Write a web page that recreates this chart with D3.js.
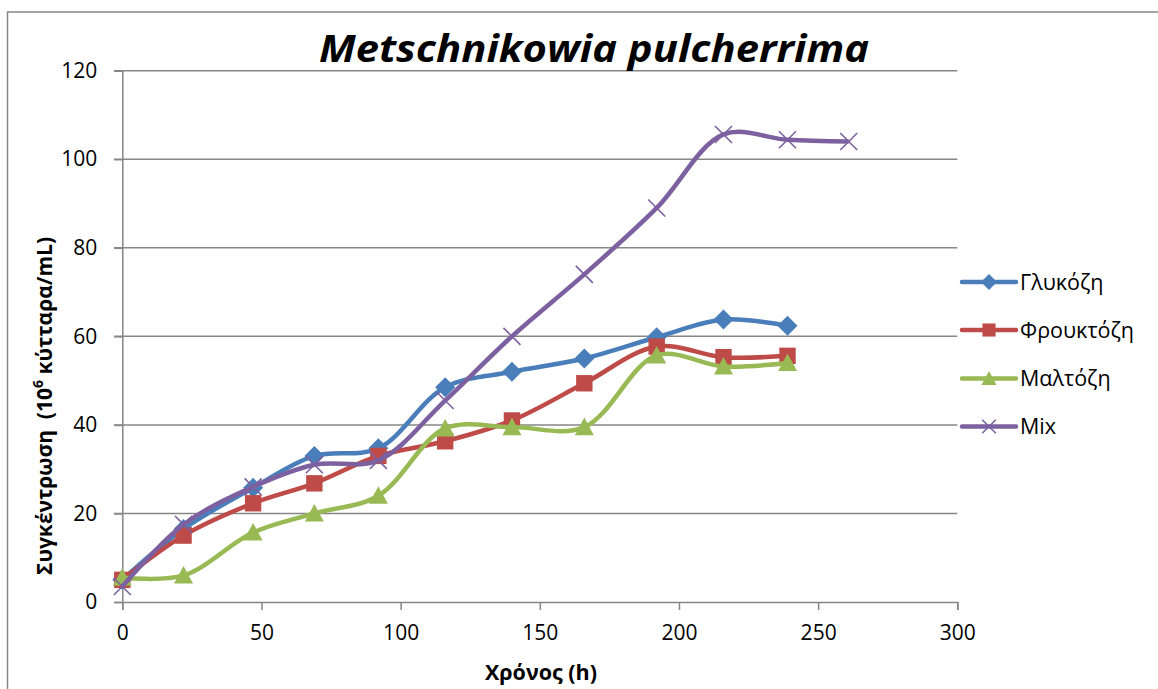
<!DOCTYPE html>
<html>
<head>
<meta charset="utf-8">
<script src="https://cdn.jsdelivr.net/npm/d3@7"></script>
<style>
  html, body { margin: 0; padding: 0; background: #fff; }
  svg { display: block; }
  text { font-family: "Open Sans", "Noto Sans", sans-serif; }
</style>
</head>
<body>
<script>
// Sampling times (h)
const timesGlucose  = [0, 22, 47, 69, 92, 116, 140, 166, 192, 216, 239];
const timesMix      = [0, 22, 47, 69, 92, 116, 140, 166, 192, 216, 239, 261];

// Cell concentration (10^6 cells/mL) per carbon source
const glucose  = [5, 16.5, 25.8, 33, 34.7, 48.5, 52, 55, 59.8, 63.8, 62.4];
const fructose = [5, 15, 22.3, 26.8, 33, 36.3, 41, 49.4, 57.7, 55.3, 55.6];
const maltose  = [5.5, 6, 15.7, 20, 24, 39.2, 39.5, 39.5, 55.7, 53.2, 54];
const mix      = [3.5, 17.5, 26, 31, 32, 45.5, 60, 74, 89, 105.6, 104.4, 104];

const seriesNames = ["Γλυκόζη", "Φρουκτόζη", "Μαλτόζη", "Mix"];
const xTicks = [0, 50, 100, 150, 200, 250, 300];
const yTicks = [0, 20, 40, 60, 80, 100, 120];

const series = [
  { name: seriesNames[0], t: timesGlucose, v: glucose,  color: "#4A7EBB", marker: "diamond" },
  { name: seriesNames[1], t: timesGlucose, v: fructose, color: "#BE4B48", marker: "square" },
  { name: seriesNames[2], t: timesGlucose, v: maltose,  color: "#98B954", marker: "triangle" },
  { name: seriesNames[3], t: timesMix,     v: mix,      color: "#7D60A0", marker: "x" }
];

const W = 1158, H = 689;
const svg = d3.select("body").append("svg").attr("width", W).attr("height", H);

// chart frame
svg.append("rect").attr("x", 7.5).attr("y", 12).attr("width", W + 20).attr("height", H + 20)
  .attr("fill", "#fff").attr("stroke", "#868686").attr("stroke-width", 1.5);

const x = d3.scaleLinear().domain([0, 300]).range([122.3, 957.3]);
const y = d3.scaleLinear().domain([0, 120]).range([602, 70.7]);
const gridColor = "#868686";

// horizontal gridlines
svg.append("g").selectAll("line").data(yTicks.filter(d => d > 0)).join("line")
  .attr("x1", 114).attr("x2", x(300))
  .attr("y1", d => y(d)).attr("y2", d => y(d))
  .attr("stroke", gridColor).attr("stroke-width", 1.5);

// y axis
const yAxis = svg.append("g").attr("transform", `translate(${x(0)},0)`)
  .call(d3.axisLeft(y).tickValues(yTicks).tickSize(8).tickPadding(17).tickFormat(d3.format("d")));
yAxis.select(".domain").attr("stroke", gridColor).attr("stroke-width", 1.5);
yAxis.selectAll(".tick line").attr("stroke", gridColor).attr("stroke-width", 1.5);
yAxis.selectAll(".tick text").attr("font-size", 21).attr("fill", "#000")
  .style("font-family", "'Open Sans', sans-serif");

// x axis
const xAxis = svg.append("g").attr("transform", `translate(0,${y(0)})`)
  .call(d3.axisBottom(x).tickValues(xTicks).tickSize(8).tickPadding(15).tickFormat(d3.format("d")));
xAxis.select(".domain").attr("stroke", gridColor).attr("stroke-width", 1.5);
xAxis.selectAll(".tick line").attr("stroke", gridColor).attr("stroke-width", 1.5);
xAxis.selectAll(".tick text").attr("font-size", 21).attr("fill", "#000")
  .style("font-family", "'Open Sans', sans-serif");

// marker shapes
function drawMarker(g, type, cx, cy, color, s) {
  if (type === "diamond") {
    g.append("path").attr("d", `M${cx},${cy - s}L${cx + s},${cy}L${cx},${cy + s}L${cx - s},${cy}Z`)
      .attr("fill", color);
  } else if (type === "square") {
    const h = s * 0.82;
    g.append("rect").attr("x", cx - h).attr("y", cy - h).attr("width", 2 * h).attr("height", 2 * h)
      .attr("fill", color);
  } else if (type === "triangle") {
    const h = s * 0.95;
    g.append("path").attr("d", `M${cx},${cy - h}L${cx + h},${cy + h * 0.85}L${cx - h},${cy + h * 0.85}Z`)
      .attr("fill", color);
  } else {
    const h = s * 0.85;
    g.append("path").attr("d", `M${cx - h},${cy - h}L${cx + h},${cy + h}M${cx - h},${cy + h}L${cx + h},${cy - h}`)
      .attr("stroke", color).attr("stroke-width", 1.6).attr("fill", "none");
  }
}

const line = d3.line().curve(d3.curveCatmullRom.alpha(0.5));

series.forEach(s => {
  const pts = s.t.map((t, i) => [x(t), y(s.v[i])]);
  const g = svg.append("g");
  g.append("path").attr("d", line(pts)).attr("fill", "none")
    .attr("stroke", s.color).attr("stroke-width", 4.5).attr("stroke-linejoin", "round");
  pts.forEach(p => drawMarker(g, s.marker, p[0], p[1], s.color, 10));
});

// legend
const legendY = [282, 330, 378.5, 426.5];
series.forEach((s, i) => {
  const g = svg.append("g");
  g.append("line").attr("x1", 962).attr("x2", 1016).attr("y1", legendY[i]).attr("y2", legendY[i])
    .attr("stroke", s.color).attr("stroke-width", 4.5).attr("stroke-linecap", "round");
  drawMarker(g, s.marker, 989, legendY[i], s.color, 8);
  g.append("text").attr("x", 1020).attr("y", legendY[i]).attr("dy", "0.35em")
    .attr("font-size", 21.5).attr("fill", "#000").text(s.name);
});

// title
svg.append("text").attr("x", 594).attr("y", 62).attr("text-anchor", "middle")
  .attr("font-size", 37).attr("font-weight", "bold").attr("font-style", "italic")
  .attr("textLength", 550).attr("lengthAdjust", "spacingAndGlyphs")
  .text("Metschnikowia pulcherrima");

// axis titles
const yt = svg.append("text").attr("transform", "translate(52,406) rotate(-90)")
  .attr("text-anchor", "middle").attr("font-size", 21).attr("font-weight", "bold")
  .style("white-space", "pre");
yt.append("tspan").text("Συγκέντρωση  (10");
yt.append("tspan").attr("dy", -9).attr("font-size", 14).text("6");
yt.append("tspan").attr("dy", 9).text(" κύτταρα/mL)");

svg.append("text").attr("x", 541).attr("y", 680).attr("text-anchor", "middle")
  .attr("font-size", 21.5).attr("font-weight", "bold").text("Χρόνος (h)");
</script>
</body>
</html>
